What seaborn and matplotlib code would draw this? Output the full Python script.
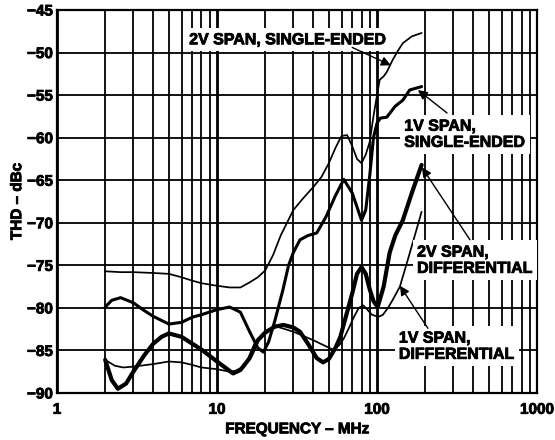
import numpy as np
import pandas as pd
import matplotlib
matplotlib.use("Agg")
import matplotlib.pyplot as plt
import matplotlib.patheffects as pe
from matplotlib.ticker import FixedLocator, NullFormatter
import seaborn as sns

# values (frequency in MHz, THD in dBc)
freq_2v_se = [2, 2.5, 3, 4, 5, 6, 7, 8, 10, 12, 14, 16, 18, 20, 22.4, 25, 30, 35, 40,
              45, 50, 55, 60, 65, 70, 75, 80, 85, 90, 95, 100, 104, 110, 115, 125, 135,
              145, 165, 190]
thd_2v_se = [-75.7, -75.8, -75.8, -75.9, -76.0, -76.4, -76.8, -77.1, -77.4, -77.6, -77.6,
             -77.0, -76.4, -75.6, -73.8, -71.5, -68.5, -67.0, -65.8, -64.6, -63.0, -61.2,
             -59.8, -59.7, -61.0, -62.5, -63.0, -62.0, -60.5, -57.5, -55.0, -53.2, -52.8,
             -52.3, -50.9, -49.8, -48.9, -48.1, -47.7]

freq_1v_se = [2, 2.2, 2.5, 3, 3.5, 4, 5, 6, 7, 8, 10, 12, 14, 16, 18, 19.5, 21, 23, 25.8,
              28, 30, 33, 37, 42, 48, 55, 62, 70, 80, 85, 90, 95, 100, 105, 115, 130, 145,
              160, 190]
thd_1v_se = [-79.9, -79.1, -78.8, -79.4, -80.3, -81.0, -81.9, -81.7, -81.1, -80.8, -80.2,
             -79.9, -80.5, -82.8, -84.7, -85.2, -84.0, -81.5, -77.9, -75.0, -73.5, -72.0,
             -71.5, -71.2, -69.3, -66.8, -64.9, -66.5, -69.7, -68.5, -64.5, -60.0, -58.3,
             -57.7, -57.6, -56.3, -55.6, -54.4, -54.0]

freq_2v_diff = [2, 2.2, 2.4, 2.7, 3, 3.5, 4, 4.5, 5, 6, 7, 8, 10, 12.6, 14, 16, 18, 20, 23,
                26, 30, 33, 37, 42, 46, 50, 55, 59, 65, 70, 75, 80, 85, 90, 95, 101, 110,
                120, 130, 145, 165, 190]
thd_2v_diff = [-86.1, -88.5, -89.5, -88.9, -87.5, -85.6, -84.2, -83.4, -83.0, -83.4, -84.2,
               -84.9, -86.3, -87.7, -87.3, -85.9, -83.8, -82.9, -82.2, -82.0, -82.3, -82.8,
               -84.2, -85.9, -86.4, -86.0, -84.7, -83.4, -80.5, -78.3, -76.0, -75.2, -76.0,
               -77.8, -79.2, -79.9, -77.5, -73.5, -71.5, -69.7, -66.5, -63.2]

freq_1v_diff = [2, 2.3, 2.6, 3, 4, 5, 6, 7, 8, 10, 12, 13, 15, 17.3, 20.5, 23.7, 30, 40,
                53, 58, 62, 67, 72, 77, 82, 87, 93, 100, 104, 109, 117, 125, 139, 160, 190]
thd_1v_diff = [-86.1, -86.8, -87.0, -86.9, -86.6, -86.3, -86.4, -86.7, -87.0, -87.2, -87.5,
               -87.4, -86.8, -84.0, -82.6, -82.2, -82.8, -83.8, -84.9, -84.4, -83.6, -82.3,
               -81.0, -80.0, -79.7, -80.2, -80.8, -81.0, -81.0, -80.8, -80.0, -79.1, -77.5,
               -73.6, -68.7]

series_names = ["2V SPAN, SINGLE-ENDED", "1V SPAN, SINGLE-ENDED",
                "2V SPAN, DIFFERENTIAL", "1V SPAN, DIFFERENTIAL"]
x_tick_labels = ["1", "10", "100", "1000"]
y_ticks = [-90, -85, -80, -75, -70, -65, -60, -55, -50, -45]

frames = []
for name, f, t in zip(series_names,
                      [freq_2v_se, freq_1v_se, freq_2v_diff, freq_1v_diff],
                      [thd_2v_se, thd_1v_se, thd_2v_diff, thd_1v_diff]):
    frames.append(pd.DataFrame({"freq": f, "thd": t, "series": name}))
df = pd.concat(frames, ignore_index=True)

sns.set_style("white")
plt.rcParams["font.family"] = ["Liberation Sans", "DejaVu Sans"]
plt.rcParams["font.weight"] = "bold"
plt.rcParams["text.color"] = "black"
plt.rcParams["axes.labelcolor"] = "black"
plt.rcParams["xtick.color"] = "black"
plt.rcParams["ytick.color"] = "black"
heavy = [pe.withStroke(linewidth=0.6, foreground="black")]
FONT = dict(family="Liberation Sans", weight="bold", color="black")

fig = plt.figure(figsize=(5.55, 4.4), dpi=100)
ax = fig.add_axes([0.1027, 0.1068, 0.8649, 0.8705])

widths = [1.25, 2.2, 3.0, 1.25]
for name, lw in zip(series_names, widths):
    sns.lineplot(data=df[df["series"] == name], x="freq", y="thd", color="black",
                 linewidth=lw, ax=ax, estimator=None, sort=False, zorder=3)

ax.set_xscale("log")
ax.set_xlim(1, 1000)
ax.set_ylim(-90, -45)

ax.xaxis.set_major_locator(FixedLocator([1, 10, 100, 1000]))
ax.set_xticklabels(x_tick_labels, fontsize=11, **FONT)
minors = [m * 10 ** k for k in range(0, 3) for m in range(2, 10)]
ax.xaxis.set_minor_locator(FixedLocator(minors))
ax.xaxis.set_minor_formatter(NullFormatter())
ax.set_yticks(y_ticks)
ax.set_yticklabels(["\u2212" + str(abs(v)) for v in y_ticks], fontsize=11, **FONT)
for lab in ax.get_xticklabels() + ax.get_yticklabels():
    lab.set_path_effects(heavy)

ax.grid(which="minor", axis="x", color="black", linewidth=1.3, zorder=1)
ax.grid(which="major", axis="x", color="black", linewidth=2.0, zorder=1)
ax.grid(which="major", axis="y", color="black", linewidth=1.3, zorder=1)
ax.set_axisbelow(True)
ax.tick_params(which="both", length=0)
ax.tick_params(axis="x", pad=7)
ax.tick_params(axis="y", pad=3)
for s in ax.spines.values():
    s.set_color("black")
    s.set_linewidth(1.6)

ax.set_xlabel("FREQUENCY \u2013 MHz", fontsize=11, labelpad=4, path_effects=heavy, **FONT)
ax.set_ylabel("THD \u2013 dBc", fontsize=11, labelpad=2, path_effects=heavy, **FONT)

box = dict(facecolor="white", edgecolor="none", pad=3)
ax.text(6.7, -48.5, "2V SPAN, SINGLE-ENDED", fontsize=11.5, path_effects=heavy,
        ha="left", va="center", bbox=box, zorder=5, **FONT)
ax.text(148, -59.6, "1V SPAN,\nSINGLE-ENDED", fontsize=11.5, path_effects=heavy,
        ha="left", va="center", bbox=box, zorder=5, linespacing=1.1, **FONT)
ax.text(178, -74.4, "2V SPAN,\nDIFFERENTIAL", fontsize=11.5, path_effects=heavy,
        ha="left", va="center", bbox=box, zorder=5, linespacing=1.1, **FONT)
ax.text(137, -84.5, "1V SPAN,\nDIFFERENTIAL", fontsize=11.5, path_effects=heavy,
        ha="left", va="center", bbox=box, zorder=5, linespacing=1.1, **FONT)

arrow = dict(arrowstyle="-|>", color="black", lw=1.0, mutation_scale=14,
             shrinkA=0, shrinkB=0)
ax.annotate("", xy=(122, -51.5), xytext=(70, -49.4), arrowprops=arrow, zorder=6)
ax.annotate("", xy=(180, -54.4), xytext=(274, -57.1), arrowprops=arrow, zorder=6)
ax.annotate("", xy=(191, -63.5), xytext=(381, -72.0), arrowprops=arrow, zorder=6)
ax.annotate("", xy=(139, -77.4), xytext=(208, -82.4), arrowprops=arrow, zorder=6)

fig.savefig("out.png", dpi=100)
